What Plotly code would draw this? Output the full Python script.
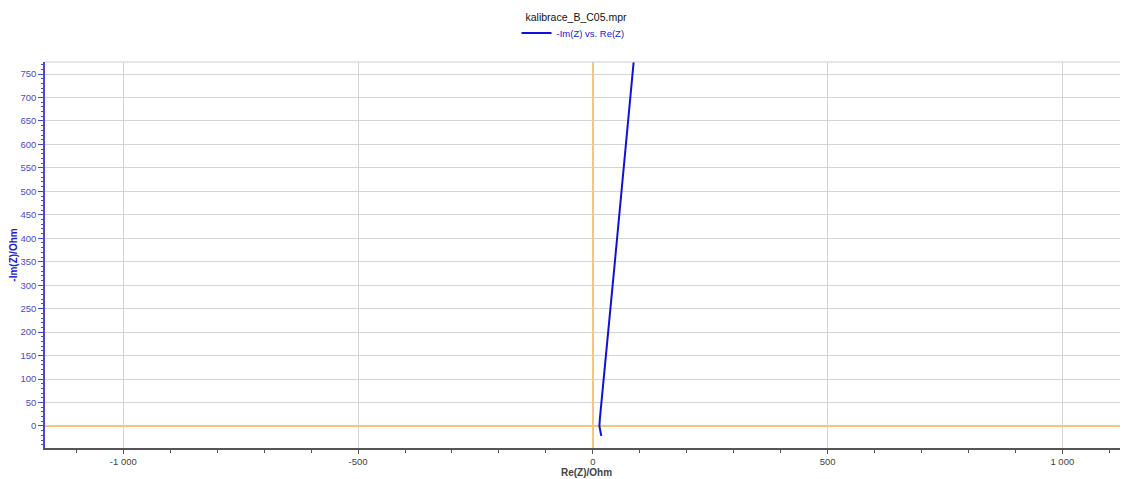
import plotly.graph_objects as go

# Data (Nyquist plot)
re_z = [18, 16, 14, 15, 17, 19, 22.5, 25.3, 28, 31.5, 34.8, 38, 42.3, 47, 51.7, 56.5, 61, 67, 72.5, 79, 85.7, 93]
im_z = [-21, -10, 0, 15, 35, 60, 90, 120, 150, 185, 220, 255, 300, 350, 400, 450, 500, 560, 620, 690, 760, 840]

x_tickvals = [-1000, -500, 0, 500, 1000]
x_ticktext = ["-1 000", "-500", "0", "500", "1 000"]
y_tickvals = list(range(0, 751, 50))

title_text = "kalibrace_B_C05.mpr"
series_name = "-Im(Z) vs. Re(Z)"

blue = "#2020d0"
tickblue = "#4a4ac8"
orange = "#f2c784"
grid = "#d4d4d4"

# page body has an 8px margin; figure is sized to fill the rest of the window
W, H = 1120, 471
OFF = 8

fig = go.Figure()
fig.add_trace(go.Scatter(
    x=re_z, y=im_z, mode="lines", name=series_name,
    line=dict(color="#1010d8", width=2),
))

fig.update_layout(
    width=W, height=H,
    margin=dict(l=45 - OFF, r=0, t=62 - OFF, b=31, autoexpand=False),
    paper_bgcolor="white", plot_bgcolor="white",
    font=dict(family="Liberation Sans, Arial, sans-serif", size=10, color="#333333"),
    title=dict(text=title_text, x=(576 - OFF) / W, xanchor="center", y=1 - (17 - OFF) / H, yanchor="middle",
               font=dict(size=10.5, color="#111111")),
    showlegend=True,
    legend=dict(orientation="h", xref="container", yref="container",
                x=(573 - OFF) / W, xanchor="center", y=1 - (33 - OFF) / H, yanchor="middle",
                font=dict(size=9.5, color=blue), bgcolor="rgba(0,0,0,0)",
                itemwidth=30),
    xaxis=dict(
        range=[-1166.8, 1139.9], automargin=False,
        tickvals=x_tickvals, ticktext=x_ticktext,
        showgrid=True, gridcolor=grid, gridwidth=1,
        zeroline=True, zerolinecolor=orange, zerolinewidth=1.5,
        showline=True, linecolor="#555555", linewidth=1.5,
        ticks="outside", ticklen=4, tickcolor="#555555",
        minor=dict(dtick=100, tick0=0, ticks="outside", ticklen=3, tickcolor="#555555", showgrid=False),
        tickfont=dict(size=9.5, color="#444444"),
        title=dict(text="<b>Re(Z)/Ohm</b>", font=dict(size=10, color="#444444"), standoff=2),
    ),
    yaxis=dict(
        range=[-46.9, 775.6], automargin=False,
        tickvals=y_tickvals,
        showgrid=True, gridcolor=grid, gridwidth=1,
        zeroline=True, zerolinecolor=orange, zerolinewidth=1.5,
        showline=True, linecolor=tickblue, linewidth=1.5,
        ticks="outside", ticklen=5, tickcolor=tickblue,
        minor=dict(dtick=10, tick0=0, ticks="outside", ticklen=2.5, tickcolor=tickblue, showgrid=False),
        tickfont=dict(size=9.5, color=tickblue),
        title=dict(text="<b>-Im(Z)/Ohm</b>", font=dict(size=10, color=blue), standoff=4),
    ),
)

# top frame line of the plot area
fig.add_shape(type="line", xref="paper", yref="paper", x0=0, x1=1, y0=1, y1=1,
              line=dict(color="#cccccc", width=1))

fig.write_html("out.html")
